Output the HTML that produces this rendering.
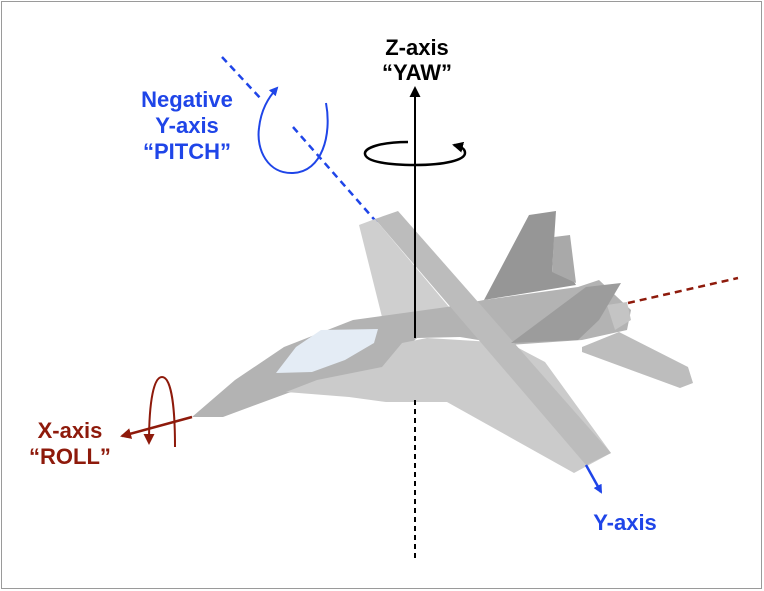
<!DOCTYPE html>
<html><head><meta charset="utf-8"><style>
html,body{margin:0;padding:0;background:#fff;}
svg{display:block;}
text{font-family:"Liberation Sans",Arial,sans-serif;font-weight:bold;font-size:22px;text-anchor:middle;}
</style></head><body>
<svg width="764" height="591" viewBox="0 0 764 591" xmlns="http://www.w3.org/2000/svg">
<defs>
<marker id="ab" markerWidth="9" markerHeight="9" refX="7" refY="4.5" orient="auto" markerUnits="userSpaceOnUse"><path d="M0,0 L9,4.5 L0,9 z" fill="#1f45e8"/></marker>
<marker id="ak" markerWidth="11" markerHeight="11" refX="9" refY="5.5" orient="auto" markerUnits="userSpaceOnUse"><path d="M0,0 L11,5.5 L0,11 z" fill="#000"/></marker>
<marker id="ar" markerWidth="11" markerHeight="11" refX="9" refY="5.5" orient="auto" markerUnits="userSpaceOnUse"><path d="M0,0 L11,5.5 L0,11 z" fill="#8e1a0b"/></marker>
</defs>
<rect x="1.5" y="1.5" width="760" height="587" fill="none" stroke="#9a9a9a" stroke-width="1"/>

<line x1="222" y1="57" x2="262" y2="100" stroke="#1f45e8" stroke-width="2.5" stroke-dasharray="7,5"/>
<line x1="293" y1="127" x2="380" y2="226" stroke="#1f45e8" stroke-width="2.5" stroke-dasharray="7,5"/>
<path d="M326,103 C332,135 322,172 293,173 C268,174 256,150 259,128 C261,110 268,98 277,88" fill="none" stroke="#1f45e8" stroke-width="2" marker-end="url(#ab)"/>
<line x1="628" y1="303" x2="738" y2="278" stroke="#8e1a0b" stroke-width="2.5" stroke-dasharray="7,5"/>

<polygon points="484,300 529,215 556,211 552,272 564,265 576,285" fill="#969696"/>
<polygon points="554,237 570,235 576,283 552,272" fill="#a9a9a9"/>
<polygon points="359,225 375,219 449,307 419,317 382,317" fill="#cfcfcf"/>
<polygon points="582,347 619,332 688,367 693,383 680,388 582,352" fill="#bdbdbd"/>
<polygon points="192,417 235,380 284,347 353,320 447,307 484,300 578,287 599,280 631,310 627,330 582,340 509,345 460,337 417,338 386,367 288,393 223,417" fill="#b3b3b3"/>
<polygon points="607,305 627,302 631,320 615,330" fill="#c4c4c4"/>
<polygon points="286,392 317,380 382,367 402,343 427,338 509,343 545,362 611,453 574,473 447,402 386,402 349,397" fill="#cbcbcb"/>
<polygon points="375,219 398,211 611,453 586,465" fill="#bcbcbc"/>
<polygon points="511,343 586,287 621,283 599,320 578,340" fill="#9c9c9c"/>
<polygon points="276,373 296,347 321,330 378,329 374,343 345,360 312,372" fill="#e4ecf5"/>

<line x1="586" y1="465" x2="601" y2="492" stroke="#1f45e8" stroke-width="2.5" marker-end="url(#ab)"/>

<line x1="415" y1="338" x2="415" y2="88" stroke="#000" stroke-width="2" marker-end="url(#ak)"/>
<line x1="415" y1="400" x2="415" y2="562" stroke="#000" stroke-width="2" stroke-dasharray="5,4"/>
<path d="M408,142 C380,142 364,148 365,154 C366,162 390,165 415,165 C445,165 465,160 465,153 C465,149 462,147 454,145" fill="none" stroke="#000" stroke-width="2.5" marker-end="url(#ak)"/>

<line x1="192" y1="417" x2="122" y2="436" stroke="#8e1a0b" stroke-width="2.5" marker-end="url(#ar)"/>
<path d="M175,447 C175,400 170,377 162,377 C154,377 149,400 149,443" fill="none" stroke="#8e1a0b" stroke-width="2" marker-end="url(#ar)"/>

<text x="417" y="55" fill="#000">Z-axis</text>
<text x="417" y="80" fill="#000">“YAW”</text>
<text x="187" y="107" fill="#1f45e8">Negative</text>
<text x="187" y="133" fill="#1f45e8">Y-axis</text>
<text x="187" y="159" fill="#1f45e8">“PITCH”</text>
<text x="70" y="438" fill="#8e1a0b">X-axis</text>
<text x="70" y="464" fill="#8e1a0b">“ROLL”</text>
<text x="625" y="530" fill="#1f45e8">Y-axis</text>
</svg>
</body></html>
